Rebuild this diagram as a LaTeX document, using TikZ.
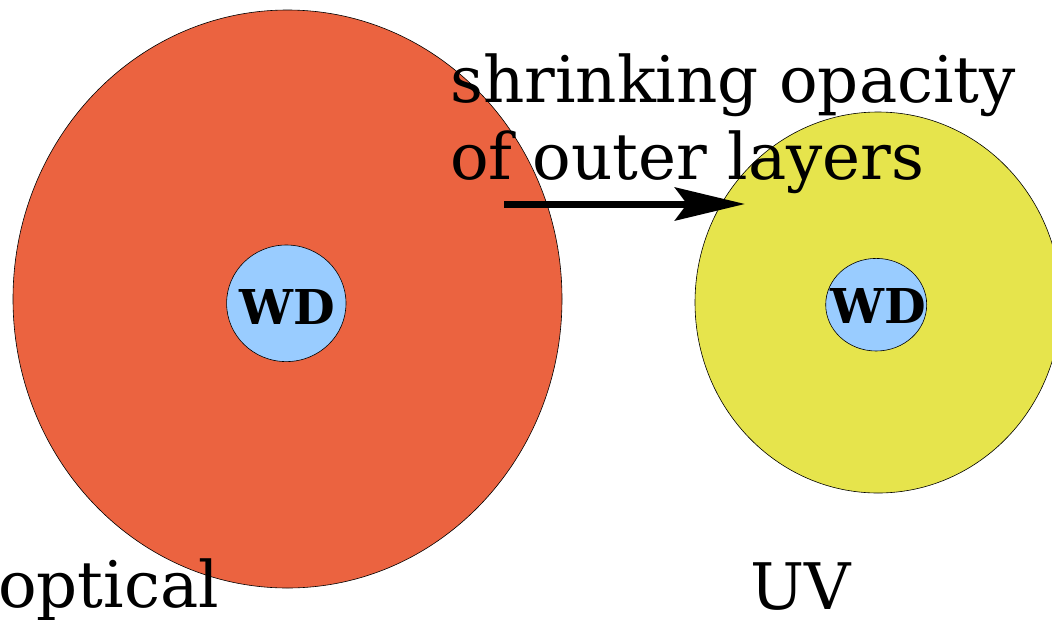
\documentclass[tikz,border=0pt]{standalone}
\usepackage{fontspec}
\setmainfont{DejaVu Serif}
\usetikzlibrary{arrows.meta}
\definecolor{outerred}{RGB}{235,99,64}
\definecolor{outeryellow}{RGB}{230,228,76}
\definecolor{coreblue}{RGB}{153,204,255}
\tikzset{
  layer/.style={draw=black, line width=0.6pt},
  bigtext/.style={inner sep=0pt, anchor=base west, font=\fontsize{64.2}{77}\selectfont},
  wdtext/.style={inner sep=0pt, font=\bfseries\fontsize{48}{56}\selectfont},
}
\begin{document}
\begin{tikzpicture}[x=1pt, y=-1pt]
\useasboundingbox (0,0) rectangle (1052,619);
% star in the optical band
\path[layer, fill=outerred] (287.5,299) ellipse [x radius=274.5, y radius=289];
\path[layer, fill=coreblue] (286.3,303.3) ellipse [x radius=59.7, y radius=58.3];
\node[wdtext] (wdleft) at (287.5,307) {WD};
% star in the UV band
\path[layer, fill=outeryellow] (878,302.5) ellipse [x radius=183, y radius=190.5];
\path[layer, fill=coreblue] (876.2,304.7) ellipse [x radius=50.5, y radius=46.3];
\node[wdtext] (wdright) at (878,306) {WD};
% caption and arrow
\node[bigtext] (capA) at (450,102) {shrinking opacity};
\node[bigtext] (capB) at (450,179) {of outer layers};
\coordinate (arrstart) at (504,204);
\coordinate (arrend) at (745,204);
\draw[line width=7pt, -{Stealth[length=70pt, width=33pt, inset=12pt]}] (arrstart) -- (arrend);
% band labels
\node[bigtext] (optical) at (-2,607) {optical};
\node[bigtext] (uv) at (750,609) {UV};
\end{tikzpicture}
\end{document}
